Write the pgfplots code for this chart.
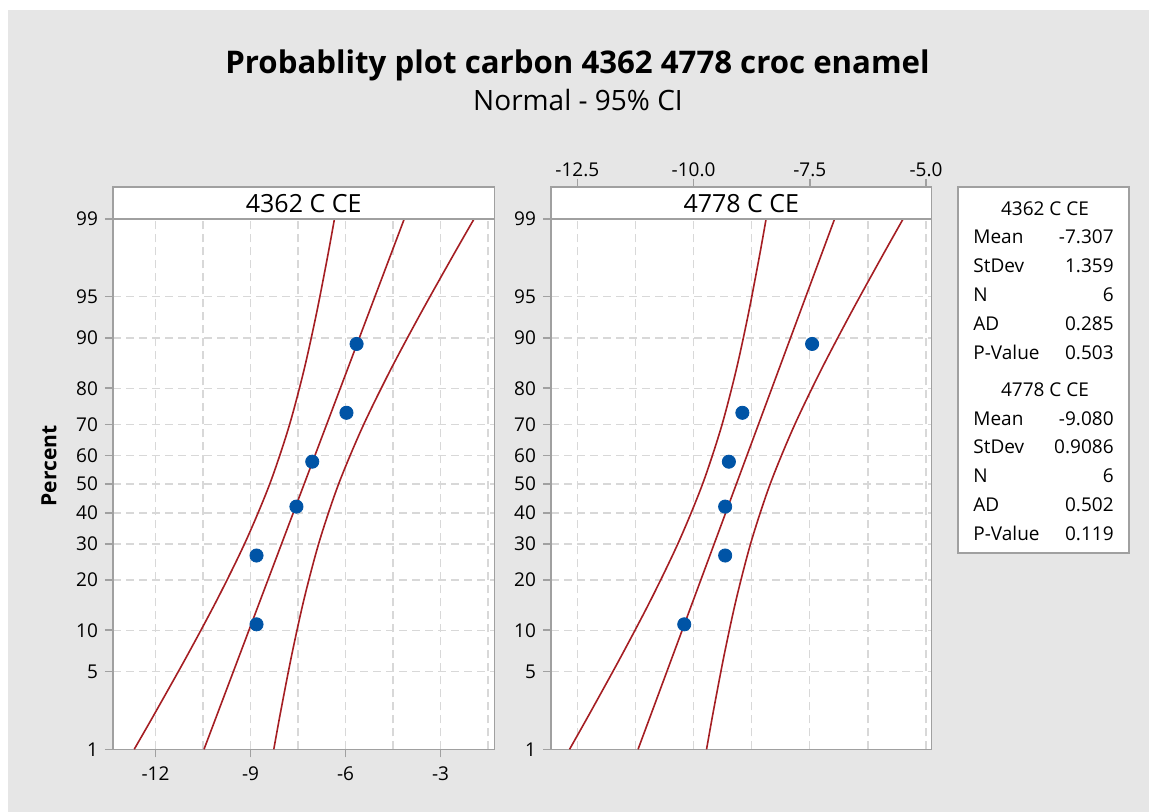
\documentclass[border=0pt]{standalone}
\usepackage{pgfplots}
\pgfplotsset{compat=1.18}
\usepackage{pgfplotstable}
\usepackage{fontspec}
\setmainfont{Open Sans}

\definecolor{bg}{RGB}{230,230,230}
\definecolor{framegray}{RGB}{160,160,160}
\definecolor{gridgray}{RGB}{216,216,216}
\definecolor{fitred}{RGB}{165,30,35}
\definecolor{ptblue}{RGB}{0,84,166}

% sample values against normal scores (Benard median ranks, n = 6)
\pgfplotstableread{
x z
-8.81 -1.2299
-8.81 -0.6261
-7.55 -0.1971
-7.05 0.1971
-5.97 0.6261
-5.65 1.2299
}\pointsA
\pgfplotstableread{
x z
-10.20 -1.2299
-9.32 -0.6261
-9.32 -0.1971
-9.24 0.1971
-8.95 0.6261
-7.45 1.2299
}\pointsB

% fitted line and 95% confidence band, 4362 C CE
\pgfplotstableread{
z lo fit hi
-2.3263 -12.6723 -10.4684 -8.2646
-2 -11.9995 -10.0250 -8.0505
-1.5 -10.9918 -9.3455 -7.6992
-1 -10.0304 -8.6660 -7.3016
-0.5 -9.1494 -7.9865 -6.8236
0 -8.3944 -7.3070 -6.2196
0.5 -7.7904 -6.6275 -5.4646
1 -7.3124 -5.9480 -4.5836
1.5 -6.9148 -5.2685 -3.6222
2 -6.5635 -4.5890 -2.6145
2.3263 -6.3494 -4.1456 -1.9417
}\bandA
% fitted line and 95% confidence band, 4778 C CE
\pgfplotstableread{
z lo fit hi
-2.3263 -12.6672 -11.1937 -9.7202
-2 -12.2173 -10.8972 -9.5771
-1.5 -11.5436 -10.4429 -9.3422
-1 -10.9008 -9.9886 -9.0764
-0.5 -10.3118 -9.5343 -8.7568
0 -9.8070 -9.0800 -8.3530
0.5 -9.4032 -8.6257 -7.8482
1 -9.0836 -8.1714 -7.2592
1.5 -8.8178 -7.7171 -6.6164
2 -8.5829 -7.2628 -5.9427
2.3263 -8.4398 -6.9663 -5.4929
}\bandB

\pgfplotsset{
  probpanel/.style={
    scale only axis,
    height=281.15pt,
    ymin=-2.3263, ymax=2.6070,
    ytick={-2.3263,-1.6449,-1.2816,-0.8416,-0.5244,-0.2533,0,0.2533,0.5244,0.8416,1.2816,1.6449,2.3263},
    yticklabels={1,5,10,20,30,40,50,60,70,80,90,95,99},
    ymajorgrids, xmajorgrids, xminorgrids,
    grid style={gridgray, dash pattern=on 4pt off 2.5pt, line width=0.7pt},
    minor grid style={gridgray, dash pattern=on 4pt off 2.5pt, line width=0.7pt},
    axis line style={framegray, line width=0.75pt},
    tick style={framegray, line width=0.75pt},
    tick align=outside, major tick length=4pt, minor tick length=0pt,
    ytick pos=left,
    tick label style={font=\fontsize{9.5}{9.5}\selectfont, text=black},
    axis background/.style={fill=white},
  },
  bandline/.style={fitred, line width=0.8pt, smooth},
  fitline/.style={fitred, line width=0.8pt},
  datapts/.style={only marks, mark=*, mark size=3.3pt, draw=ptblue, fill=ptblue},
}

\begin{document}
\begin{tikzpicture}
\useasboundingbox (0,0) rectangle (574.5pt,-406pt);
\fill[white] (0,0) rectangle (574.5pt,-406pt);
\fill[bg] (8*0.5pt,-10*0.5pt) rectangle (574.5pt,-406pt);

\node[anchor=base, font=\fontsize{15.6}{15.6}\selectfont\bfseries] at (577.5*0.5pt,-74*0.5pt) {Probablity plot carbon 4362 4778 croc enamel};
\node[anchor=base, font=\fontsize{14}{14}\selectfont] at (578*0.5pt,-111*0.5pt) {Normal - 95\% CI};

% left panel
\begin{axis}[probpanel,
  at={(113*0.5pt,-749.3*0.5pt)}, anchor=south west,
  width=190.75pt,
  xmin=-13.342, xmax=-1.295,
  xtick={-12,-9,-6,-3}, xticklabels={-12,-9,-6,-3},
  minor xtick={-10.5,-7.5,-4.5,-1.5},
  xtick pos=left,
  xticklabel style={yshift=-1pt},
]
\addplot[bandline] table[x=lo, y=z] {\bandA};
\addplot[fitline] table[x=fit, y=z] {\bandA};
\addplot[bandline] table[x=hi, y=z] {\bandA};
\addplot[datapts] table[x=x, y=z] {\pointsA};
\end{axis}

% right panel
\begin{axis}[probpanel,
  at={(551*0.5pt,-749.3*0.5pt)}, anchor=south west,
  width=190.35pt,
  xmin=-13.066, xmax=-4.877,
  xtick={-12.5,-10,-7.5,-5}, xticklabels={-12.5,-10.0,-7.5,-5.0},
  minor xtick={-11.25,-8.75,-6.25},
  xtick pos=right, xticklabel pos=right,
  xticklabel style={yshift=-2.5pt},
]
\addplot[bandline] table[x=lo, y=z] {\bandB};
\addplot[fitline] table[x=fit, y=z] {\bandB};
\addplot[bandline] table[x=hi, y=z] {\bandB};
\addplot[datapts] table[x=x, y=z] {\pointsB};
\end{axis}

% panel header strips
\filldraw[fill=white, draw=framegray, line width=0.75pt] (113*0.5pt,-187*0.5pt) rectangle (494.5*0.5pt,-219*0.5pt);
\node[anchor=base, font=\fontsize{12.5}{12.5}\selectfont] at (303.7*0.5pt,-212.3*0.5pt) {4362 C CE};
\filldraw[fill=white, draw=framegray, line width=0.75pt] (551*0.5pt,-187*0.5pt) rectangle (931.7*0.5pt,-219*0.5pt);
\node[anchor=base, font=\fontsize{12.5}{12.5}\selectfont] at (741.3*0.5pt,-212.3*0.5pt) {4778 C CE};

\node[rotate=90, font=\fontsize{10.5}{10.5}\selectfont\bfseries] at (49*0.5pt,-466*0.5pt) {Percent};

% summary table
\filldraw[fill=white, draw=framegray, line width=0.75pt] (958*0.5pt,-187*0.5pt) rectangle (1129*0.5pt,-553*0.5pt);
\begin{scope}[font=\fontsize{9.5}{9.5}\selectfont, every node/.style={inner sep=0pt}]
\node[anchor=base] at (1045*0.5pt,-216*0.5pt) {4362 C CE};
\node[anchor=base west] at (973*0.5pt,-243.3*0.5pt) {Mean};
\node[anchor=base east] at (1114*0.5pt,-243.3*0.5pt) {-7.307};
\node[anchor=base west] at (973*0.5pt,-272.7*0.5pt) {StDev};
\node[anchor=base east] at (1114*0.5pt,-272.7*0.5pt) {1.359};
\node[anchor=base west] at (973*0.5pt,-301.7*0.5pt) {N};
\node[anchor=base east] at (1114*0.5pt,-301.7*0.5pt) {6};
\node[anchor=base west] at (973*0.5pt,-330*0.5pt) {AD};
\node[anchor=base east] at (1114*0.5pt,-330*0.5pt) {0.285};
\node[anchor=base west] at (973*0.5pt,-359*0.5pt) {P-Value};
\node[anchor=base east] at (1114*0.5pt,-359*0.5pt) {0.503};
\node[anchor=base] at (1045*0.5pt,-396*0.5pt) {4778 C CE};
\node[anchor=base west] at (973*0.5pt,-425*0.5pt) {Mean};
\node[anchor=base east] at (1114*0.5pt,-425*0.5pt) {-9.080};
\node[anchor=base west] at (973*0.5pt,-453*0.5pt) {StDev};
\node[anchor=base east] at (1114*0.5pt,-453*0.5pt) {0.9086};
\node[anchor=base west] at (973*0.5pt,-482.7*0.5pt) {N};
\node[anchor=base east] at (1114*0.5pt,-482.7*0.5pt) {6};
\node[anchor=base west] at (973*0.5pt,-511.7*0.5pt) {AD};
\node[anchor=base east] at (1114*0.5pt,-511.7*0.5pt) {0.502};
\node[anchor=base west] at (973*0.5pt,-540*0.5pt) {P-Value};
\node[anchor=base east] at (1114*0.5pt,-540*0.5pt) {0.119};
\end{scope}
\end{tikzpicture}
\end{document}
